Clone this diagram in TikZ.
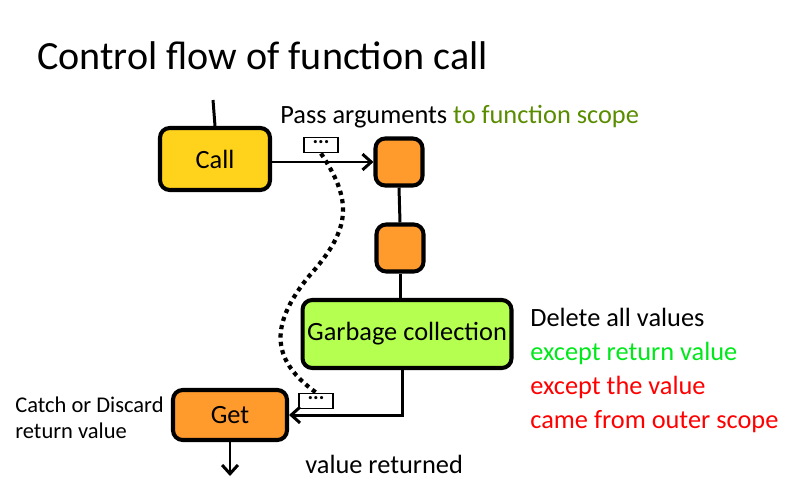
\documentclass[tikz,border=0pt]{standalone}
\usepackage{fontspec}
\setmainfont{Carlito}
\usetikzlibrary{arrows.meta}
\definecolor{callyellow}{HTML}{FFD21C}
\definecolor{scopeorange}{HTML}{FF9A2C}
\definecolor{gcgreen}{HTML}{B5FF50}
\definecolor{olivetext}{HTML}{5A8C00}
\definecolor{keepgreen}{HTML}{00E81A}
\tikzset{
  block/.style={draw,line width=2.3pt,rounded corners=5.5pt,
    font=\fontsize{15}{18}\selectfont,inner sep=0pt},
  valbox/.style={draw,line width=1.1pt,minimum width=0.68cm,
    minimum height=0.3cm,inner sep=0pt,font=\fontsize{12}{12}\selectfont\bfseries},
  flow/.style={line width=1.7pt},
  note/.style={font=\fontsize{15}{18}\selectfont,anchor=base west,inner sep=0pt}
}
\begin{document}
\begin{tikzpicture}[x=0.02cm,y=-0.02cm,>={Straight Barb[length=5pt,width=9pt,line width=1.7pt]}]
\useasboundingbox (0,0) rectangle (800,500);

\node[anchor=base west,inner sep=0pt,font=\fontsize{22.8}{26}\selectfont]
    (title) at (37,70) {Control flow of function call};

\node[block,fill=callyellow,minimum width=2.2cm,minimum height=1.24cm]
    (call) at (215,159) {Call};
\node[block,fill=scopeorange,minimum width=0.94cm,minimum height=0.94cm]
    (enter) at (399,162) {};
\node[block,fill=scopeorange,minimum width=0.94cm,minimum height=0.94cm]
    (body) at (400,248) {};
\node[block,fill=gcgreen,minimum width=4.18cm,minimum height=1.36cm]
    (gc) at (407,334) {Garbage collection};
\node[block,fill=scopeorange,minimum width=2.28cm,minimum height=1.0cm]
    (get) at (230,415) {Get};

\node[valbox] (argbox) at (321,145) {\raisebox{3pt}{...}};
\node[valbox] (retbox) at (316,401) {\raisebox{3pt}{...}};

\coordinate (in) at (213,100);
\coordinate (out) at (230,476);

\draw[flow] (in) -- (call.north);
\draw[flow,->] (call.east |- enter) -- (enter.west);
\draw[flow] (enter.south) -- (body.north);
\draw[flow] (body.south) -- (body.south |- gc.north);
\draw[flow,->] (gc.south -| 402,0) |- (get.east);
\draw[flow,->] (get.south) -- (out);

% value carried from call to get
\draw[line width=2.4pt,dash pattern=on 2.4pt off 2.4pt]
    (argbox.south) .. controls (352,200) and (352,228) .. (310,275)
    .. controls (266,328) and (274,362) .. (retbox.north);

\node[note] (pass) at (280,123) {Pass arguments \textcolor{olivetext}{to function scope}};
\node[note] (del) at (530,326) {Delete all values};
\node[note,text=keepgreen] (keep) at (530,360) {except return value};
\node[note,text=red] (outer1) at (530,394) {except the value};
\node[note,text=red] (outer2) at (530,428) {came from outer scope};
\node[anchor=base west,inner sep=0pt,align=left,font=\fontsize{12.8}{14.7}\selectfont]
    (catch) at (15,438) {Catch or Discard\\return value};
\node[note] (ret) at (305,473) {value returned};
\end{tikzpicture}
\end{document}
